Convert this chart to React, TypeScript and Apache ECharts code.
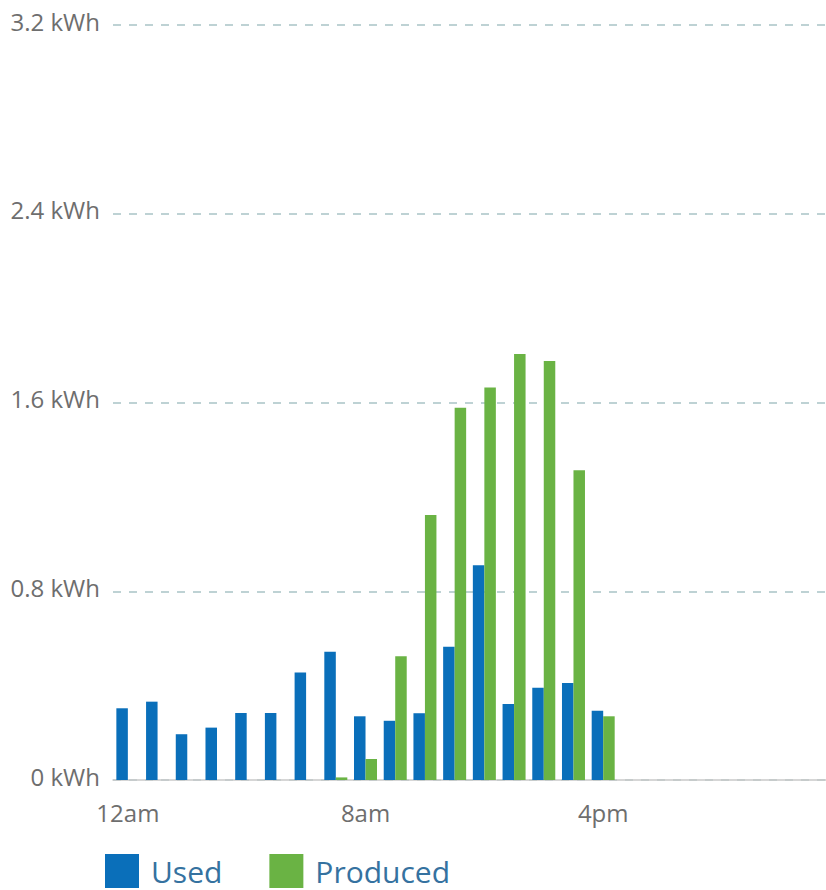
import React, { useEffect, useRef } from "react";
import * as echarts from "echarts";

const hours = [
  "12am", "1am", "2am", "3am", "4am", "5am", "6am", "7am",
  "8am", "9am", "10am", "11am", "12pm", "1pm", "2pm", "3pm",
  "4pm", "5pm", "6pm", "7pm", "8pm", "9pm", "10pm", "11pm",
];

const usedValues: (number | null)[] = [
  0.304, 0.332, 0.194, 0.222, 0.284, 0.284, 0.456, 0.544,
  0.27, 0.251, 0.283, 0.565, 0.91, 0.322, 0.391, 0.411,
  0.294, null, null, null, null, null, null, null,
];

const producedValues: (number | null)[] = [
  0, 0, 0, 0, 0, 0, 0, 0.011,
  0.089, 0.525, 1.123, 1.578, 1.664, 1.806, 1.776, 1.313,
  0.27, null, null, null, null, null, null, null,
];

const yMin = 0;
const yMax = 3.2;
const yStep = 0.8;

export default function App() {
  const ref = useRef<HTMLDivElement>(null);

  useEffect(() => {
    if (!ref.current) return;
    const chart = echarts.init(ref.current, undefined, { renderer: "svg" });
    const font = "'Open Sans', 'Noto Sans', sans-serif";
    chart.setOption({
      animation: false,
      backgroundColor: "#ffffff",
      grid: { left: 113, right: -4, top: 25, bottom: 110, containLabel: false },
      xAxis: {
        type: "category",
        data: hours,
        boundaryGap: true,
        axisLine: { show: true, lineStyle: { color: "#c9c9c9", width: 1.5 } },
        axisTick: { show: false },
        axisLabel: {
          interval: 7,
          margin: 20,
          color: "#6e6e6e",
          fontSize: 24,
          fontFamily: font,
        },
        splitLine: { show: false },
      },
      yAxis: {
        type: "value",
        min: yMin,
        max: yMax,
        interval: yStep,
        axisLine: { show: false },
        axisTick: { show: false },
        axisLabel: {
          margin: 13,
          color: "#6e6e6e",
          fontSize: 24,
          fontFamily: font,
          verticalAlign: "bottom",
          lineHeight: 8,
          formatter: (v: number) => `${Number(v.toFixed(1))} kWh`,
        },
        splitLine: {
          show: true,
          lineStyle: { color: "#a9c3c6", width: 1.5, type: [8, 8] },
        },
      },
      legend: {
        left: 105,
        top: 854,
        padding: 0,
        itemWidth: 34,
        itemHeight: 34,
        itemGap: 47,
        icon: "rect",
        textStyle: {
          color: "#3572a0",
          fontSize: 30,
          fontFamily: font,
          verticalAlign: "top",
          lineHeight: 8,
          padding: [0, 0, 0, 7],
        },
        data: ["Used", "Produced"],
      },
      series: [
        {
          name: "Used",
          type: "bar",
          data: usedValues,
          barWidth: 11.5,
          barGap: "0%",
          itemStyle: { color: "#0a6fba" },
        },
        {
          name: "Produced",
          type: "bar",
          data: producedValues,
          barWidth: 11.5,
          barGap: "0%",
          itemStyle: { color: "#6ab344" },
        },
      ],
    });
    return () => chart.dispose();
  }, []);

  return (
    <div
      ref={ref}
      style={{ position: "absolute", left: 0, top: 0, width: 826, height: 890 }}
    />
  );
}
